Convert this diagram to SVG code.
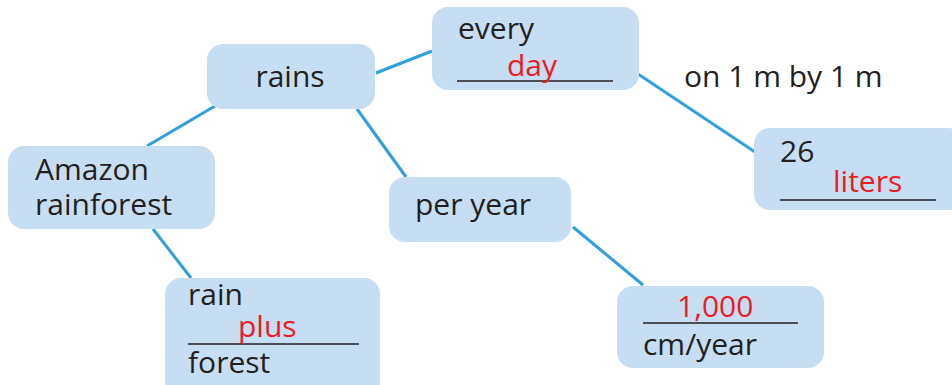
<svg xmlns="http://www.w3.org/2000/svg" width="952" height="385" viewBox="0 0 952 385">
<style>
.box{fill:#c7ddf2;}
.t{font-family:"Open Sans","Noto Sans",sans-serif;font-size:30px;fill:#231f20;}
.r{font-family:"Open Sans","Noto Sans",sans-serif;font-size:30px;fill:#ed1c24;}
.u{stroke:#231f20;stroke-width:1.5;}
.c{stroke:#2fa0dc;stroke-width:3;fill:none;}
</style>
<g id="connectors">
<line class="c" x1="215" y1="106" x2="147" y2="146"/>
<line class="c" x1="376" y1="73" x2="432" y2="51"/>
<line class="c" x1="357" y1="109" x2="406" y2="177"/>
<line class="c" x1="638" y1="74" x2="755" y2="152"/>
<line class="c" x1="153" y1="229" x2="191" y2="278"/>
<line class="c" x1="573" y1="227" x2="643" y2="285"/>
</g>
<g id="rains">
<rect class="box" x="207" y="44" width="168" height="65" rx="16"/>
<text class="t" x="290" y="87" text-anchor="middle">rains</text>
</g>
<g id="every">
<rect class="box" x="432" y="7" width="207" height="83" rx="16"/>
<text class="t" x="458" y="39">every</text>
<line class="u" x1="457" y1="81" x2="613" y2="81"/>
<text class="r" x="507" y="76">day</text>
</g>
<text id="label-on" class="t" x="684" y="87">on 1 m by 1 m</text>
<g id="liters">
<rect class="box" x="754" y="128" width="210" height="82" rx="16"/>
<text class="t" x="780" y="162">26</text>
<line class="u" x1="780" y1="200" x2="936" y2="200"/>
<text class="r" x="833" y="192">liters</text>
</g>
<g id="amazon">
<rect class="box" x="8" y="146" width="207" height="83" rx="16"/>
<text class="t" x="35" y="180">Amazon</text>
<text class="t" x="35" y="215">rainforest</text>
</g>
<g id="peryear">
<rect class="box" x="389" y="177" width="182" height="65" rx="16"/>
<text class="t" x="415" y="215">per year</text>
</g>
<g id="rainplusforest">
<rect class="box" x="165" y="278" width="215" height="120" rx="16"/>
<text class="t" x="188" y="305">rain</text>
<line class="u" x1="188" y1="344" x2="359" y2="344"/>
<text class="r" x="238" y="337">plus</text>
<text class="t" x="188" y="373">forest</text>
</g>
<g id="cmyear">
<rect class="box" x="617" y="286" width="207" height="82" rx="16"/>
<line class="u" x1="643" y1="323" x2="798" y2="323"/>
<text class="r" x="677" y="317">1,000</text>
<text class="t" x="643" y="355">cm/year</text>
</g>
</svg>
